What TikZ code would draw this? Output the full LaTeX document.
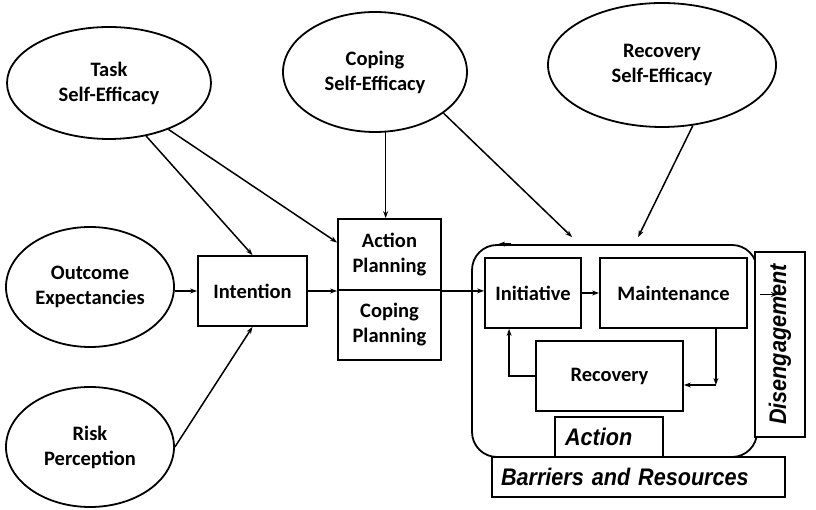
\documentclass[tikz,border=0pt]{standalone}
\usepackage{fontspec}
\setmainfont{Carlito}
\newfontfamily\arialfont[FakeStretch=0.9]{Liberation Sans}
\usetikzlibrary{shapes.geometric,arrows.meta,calc}
\begin{document}
\begin{tikzpicture}[x=1pt,y=1pt,
  every node/.style={font=\bfseries\fontsize{20.5}{25}\selectfont},
  oval/.style={ellipse,draw,line width=1.8pt,inner sep=0pt,align=center},
  box/.style={rectangle,draw,line width=1.8pt,inner sep=0pt,align=center},
  itbox/.style={rectangle,draw,line width=1.8pt,fill=white,inner sep=0pt,
     font=\arialfont\bfseries\itshape\fontsize{24}{28}\selectfont},
  arr/.style={line width=1.5pt,-{Stealth[length=7pt,width=5pt]}}]
\useasboundingbox[fill=white] (0,0) rectangle (816,510);
% ellipses
\node[oval,minimum width=204,minimum height=112] (task) at (109,427) {Task\\Self-Efficacy};
\node[oval,minimum width=168,minimum height=120] (outcome) at (90,223) {Outcome\\Expectancies};
\node[oval,minimum width=168,minimum height=120] (risk) at (90,63) {Risk\\Perception};
\node[oval,minimum width=184,minimum height=120] (coping) at (375,438) {Coping\\Self-Efficacy};
\node[oval,minimum width=228,minimum height=124] (recse) at (662,445) {Recovery\\Self-Efficacy};
% boxes
\node[box,minimum width=109,minimum height=70] (intention) at (252.5,219) {Intention};
\node[box,minimum width=103,minimum height=71] (ap) at (389.5,255.5) {Action\\Planning};
\node[box,minimum width=103,minimum height=70] (cp) at (389.5,185) {Coping\\Planning};
% big action frame
\node[rectangle,draw,line width=1.8pt,rounded corners=25pt,minimum width=285,minimum height=212,inner sep=0pt] (big) at (614.5,159) {};
\node[box,minimum width=96,minimum height=70] (init) at (533,217) {Initiative};
\node[box,minimum width=147,minimum height=70] (maint) at (673.5,217) {Maintenance};
\node[box,minimum width=147,minimum height=70] (recov) at (609.5,134) {Recovery};
\node[itbox,text width=88pt,inner xsep=10pt,align=left,minimum height=40] (action) at (609,73) {Action};
\node[itbox,text width=275pt,minimum height=40,inner xsep=9pt,align=left] (barriers) at (638.5,33) {Barriers and Resources};
\node[itbox,minimum width=185,minimum height=50,rotate=90] (diseng) at (780,165.5) {Disengagement};
% connectors
\draw[arr] (task.-55) -- (intention.north);
\draw[arr] (task.-38) -- ($(ap.west)+(0,12)$);
\draw[arr] (outcome.east|-intention) -- (intention.west);
\draw[arr] (risk.east) -- (intention.south);
\draw[arr] (coping.-80) -- (coping.-80 |- ap.north);
\draw[arr] (coping.-31) -- ($(big.north west)+(101,7)$);
\draw[arr] (recse.-63) -- ($(big.north west)+(167,7)$);
\draw[arr] (intention.east) -- (intention.east -| ap.west);
\draw[arr] (ap.south east) -- (ap.south east -| init.west);
\draw[arr] (init.east) -- (maint.west);
\coordinate (corner) at ($(recov.east)+(32,-9)$);
\draw[arr] (corner |- maint.south) -- (corner);
\draw[arr] (corner) -- (corner -| recov.east);
\draw[arr] (recov.west) -| ($(init.south west)+(25,0)$);
\draw[arr] ($(big.north west)+(40,0)$) -- ($(big.north west)+(27,0)$);
\coordinate (dstart) at (760,215.5);
\draw[arr] (dstart) -- ++(18,0);
\end{tikzpicture}
\end{document}
